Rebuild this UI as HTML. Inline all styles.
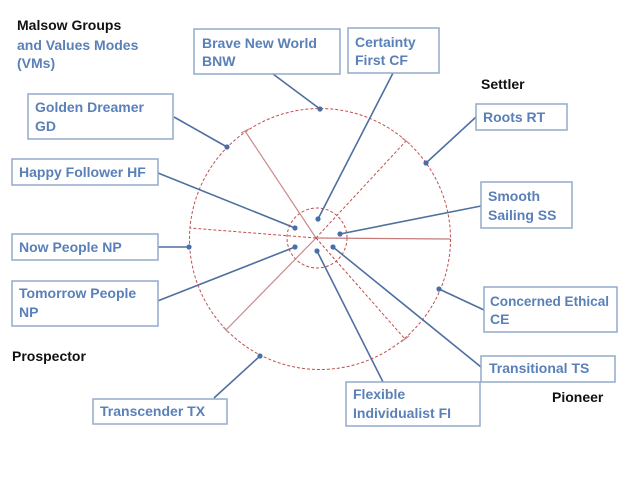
<!DOCTYPE html>
<html><head><meta charset="utf-8"><style>
html,body{margin:0;padding:0;background:#fff;}
svg{display:block;}
text{font-family:"Liberation Sans",sans-serif;font-weight:bold;font-size:14px;}
.t{fill:#5a80b8;}
.k{fill:#111;}
.box{fill:#fff;stroke:#93aacb;stroke-width:1.5;}
.con{stroke:#4e6f9f;stroke-width:1.6;fill:none;}
.dot{fill:#4a6fa8;}
.dr{stroke:#c0504d;stroke-width:1;fill:none;stroke-dasharray:3,2;}
.sr{stroke:#c98a8a;stroke-width:1.2;fill:none;}
</style></head><body>
<svg width="640" height="480" viewBox="0 0 640 480" xmlns="http://www.w3.org/2000/svg">
<rect width="640" height="480" fill="#fff"/>
<!-- circles -->
<circle class="dr" cx="320" cy="239" r="130.5"/>
<circle class="dr" cx="317" cy="238" r="30"/>
<!-- radial lines -->
<line class="sr" x1="316" y1="238" x2="245" y2="131"/>
<line class="sr" x1="316" y1="238" x2="226" y2="330"/>
<line class="sr" x1="316" y1="238" x2="450" y2="239" style="stroke:#c57b7b"/>
<line class="dr" x1="316" y1="238" x2="190" y2="228"/>
<line class="dr" x1="316" y1="238" x2="406" y2="141"/>
<line class="dr" x1="316" y1="238" x2="405" y2="339"/>
<!-- ticks -->
<line class="sr" x1="241" y1="133" x2="249" y2="129"/>
<line class="sr" x1="223" y1="327" x2="229" y2="333"/>
<line class="sr" x1="402" y1="138" x2="410" y2="144"/>
<line class="sr" x1="401" y1="342" x2="409" y2="336"/>

<!-- connectors -->
<line class="con" x1="273" y1="74" x2="320" y2="109"/>
<line class="con" x1="174" y1="117" x2="227" y2="147"/>
<line class="con" x1="158" y1="173" x2="295" y2="228"/>
<line class="con" x1="393" y1="73" x2="318" y2="219"/>
<line class="con" x1="476" y1="117" x2="426" y2="163"/>
<line class="con" x1="481" y1="206" x2="340" y2="234"/>
<line class="con" x1="158" y1="247" x2="189" y2="247"/>
<line class="con" x1="155" y1="302" x2="295" y2="247"/>
<line class="con" x1="214" y1="398" x2="260" y2="356"/>
<line class="con" x1="484" y1="310" x2="439" y2="289"/>
<line class="con" x1="481" y1="367" x2="333" y2="247"/>
<line class="con" x1="383" y1="382" x2="317" y2="251"/>

<!-- dots -->
<circle class="dot" cx="320" cy="109" r="2.6"/>
<circle class="dot" cx="227" cy="147" r="2.6"/>
<circle class="dot" cx="426" cy="163" r="2.6"/>
<circle class="dot" cx="189" cy="247" r="2.6"/>
<circle class="dot" cx="439" cy="289" r="2.6"/>
<circle class="dot" cx="260" cy="356" r="2.6"/>
<circle class="dot" cx="318" cy="219" r="2.6"/>
<circle class="dot" cx="295" cy="228" r="2.6"/>
<circle class="dot" cx="340" cy="234" r="2.6"/>
<circle class="dot" cx="295" cy="247" r="2.6"/>
<circle class="dot" cx="317" cy="251" r="2.6"/>
<circle class="dot" cx="333" cy="247" r="2.6"/>

<!-- boxes -->
<rect class="box" x="194" y="29" width="146" height="45"/>
<rect class="box" x="28" y="94" width="145" height="45"/>
<rect class="box" x="12" y="159" width="146" height="26"/>
<rect class="box" x="348" y="28" width="91" height="45"/>
<rect class="box" x="476" y="104" width="91" height="26"/>
<rect class="box" x="481" y="182" width="91" height="46"/>
<rect class="box" x="12" y="234" width="146" height="26"/>
<rect class="box" x="12" y="281" width="146" height="45"/>
<rect class="box" x="93" y="399" width="134" height="25"/>
<rect class="box" x="484" y="287" width="133" height="45"/>
<rect class="box" x="481" y="356" width="134" height="26"/>
<rect class="box" x="346" y="382" width="134" height="44"/>

<!-- texts -->
<text class="k" x="17" y="30">Malsow Groups</text>
<text class="t" x="17" y="50">and Values Modes</text>
<text class="t" x="17" y="68">(VMs)</text>

<text class="t" x="202" y="48">Brave New World</text>
<text class="t" x="202" y="66">BNW</text>

<text class="t" x="35" y="112">Golden Dreamer</text>
<text class="t" x="35" y="131">GD</text>

<text class="t" x="19" y="177">Happy Follower HF</text>

<text class="t" x="355" y="47">Certainty</text>
<text class="t" x="355" y="65">First CF</text>

<text class="k" x="481" y="89">Settler</text>

<text class="t" x="483" y="122">Roots RT</text>

<text class="t" x="488" y="201">Smooth</text>
<text class="t" x="488" y="220">Sailing SS</text>

<text class="t" x="19" y="252">Now People NP</text>

<text class="t" x="19" y="298">Tomorrow People</text>
<text class="t" x="19" y="317">NP</text>

<text class="k" x="12" y="361">Prospector</text>

<text class="t" x="100" y="416">Transcender TX</text>

<text class="t" x="490" y="306" textLength="119" lengthAdjust="spacingAndGlyphs">Concerned Ethical</text>
<text class="t" x="490" y="324">CE</text>

<text class="t" x="489" y="373">Transitional TS</text>

<text class="k" x="552" y="402">Pioneer</text>

<text class="t" x="353" y="399">Flexible</text>
<text class="t" x="353" y="418">Individualist FI</text>
</svg>
</body></html>
